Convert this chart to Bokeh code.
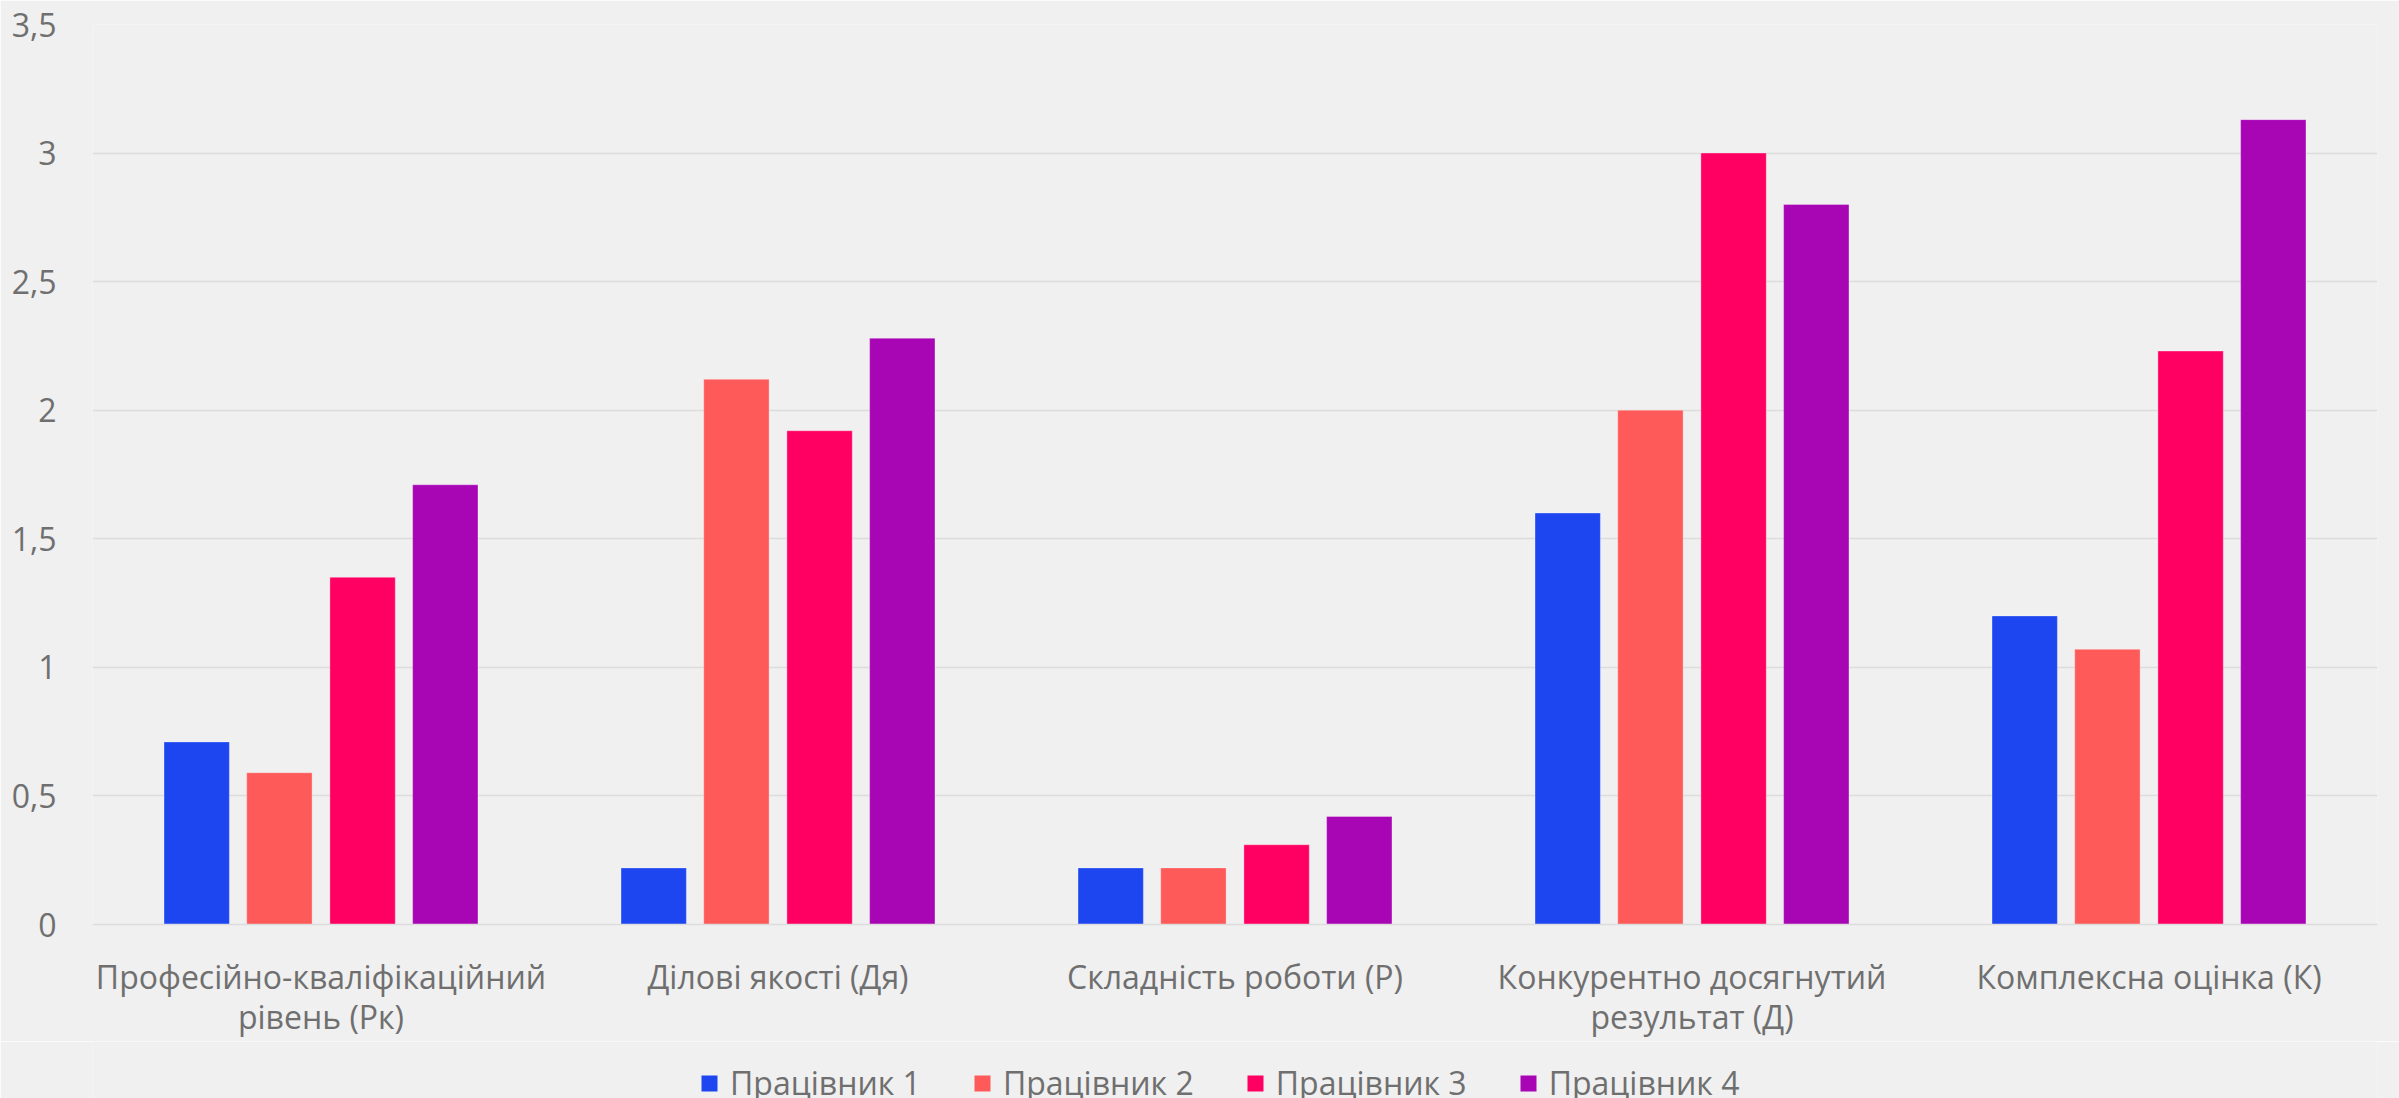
from bokeh.plotting import figure
from bokeh.layouts import column
from bokeh.models import (ColumnDataSource, Legend, LegendItem, FactorRange, Range1d,
                          FixedTicker, CustomJSTickFormatter)
from bokeh.transform import dodge
from bokeh.embed import file_html
from bokeh.resources import INLINE

# ---- data ----
categories = [
    "Професійно-кваліфікаційний\nрівень (Рк)",
    "Ділові якості (Дя)",
    "Складність роботи (Р)",
    "Конкурентно досягнутий\nрезультат (Д)",
    "Комплексна оцінка (К)",
]
series_names = ["Працівник 1", "Працівник 2", "Працівник 3", "Працівник 4"]
worker1 = [0.71, 0.22, 0.22, 1.60, 1.20]
worker2 = [0.59, 2.12, 0.22, 2.00, 1.07]
worker3 = [1.35, 1.92, 0.31, 3.00, 2.23]
worker4 = [1.71, 2.28, 0.42, 2.80, 3.13]
y_ticks = [0, 0.5, 1, 1.5, 2, 2.5, 3, 3.5]
y_tick_labels = ["0", "0,5", "1", "1,5", "2", "2,5", "3", "3,5"]

colors = ["#1E46F0", "#FF5A5A", "#FF0062", "#A805B5"]
offsets = [-0.272, -0.091, 0.091, 0.272]
bar_w = 0.143
FONT = "Open Sans"
FS = "32px"
TXT = "#6F6F6F"
BG = "#F0F0F0"
GRID = "#DCDCDC"
keys = ["w1", "w2", "w3", "w4"]

source = ColumnDataSource(dict(cat=categories, w1=worker1, w2=worker2, w3=worker3, w4=worker4))

x_range = FactorRange(*categories)
p = figure(frame_width=2285, frame_height=900,
           x_range=x_range, y_range=Range1d(0, 3.5),
           output_backend="svg", toolbar_location=None,
           min_border_left=92, min_border_right=22, min_border_top=24, min_border_bottom=116)
p.background_fill_color = BG
p.border_fill_color = BG
p.outline_line_color = None

for key, off, col in zip(keys, offsets, colors):
    p.vbar(x=dodge("cat", off, range=x_range), top=key, width=bar_w, source=source,
           fill_color=col, line_color="white", line_alpha=0.3, line_width=1)

# axes
p.yaxis.ticker = FixedTicker(ticks=y_ticks)
p.yaxis.formatter = CustomJSTickFormatter(args=dict(tv=y_ticks, tl=y_tick_labels), code="""
const i = tv.findIndex(t => Math.abs(t - tick) < 1e-9);
return i >= 0 ? tl[i] : '';
""")
p.yaxis.axis_line_color = None
p.yaxis.major_tick_line_color = None
p.yaxis.minor_tick_line_color = None
p.yaxis.major_label_standoff = 30
p.yaxis.major_label_text_font = FONT
p.yaxis.major_label_text_font_size = FS
p.yaxis.major_label_text_color = TXT

p.xaxis.axis_line_color = GRID
p.xaxis.axis_line_width = 1.5
p.xaxis.major_tick_line_color = None
p.xaxis.minor_tick_line_color = None
p.xaxis.major_label_standoff = 24
p.xaxis.major_label_text_font = FONT
p.xaxis.major_label_text_font_size = FS
p.xaxis.major_label_text_color = TXT
p.xaxis.major_label_text_line_height = 0.95

p.xgrid.grid_line_color = None
p.ygrid.grid_line_color = GRID
p.ygrid.grid_line_width = 1.5

# ---- legend strip: same series drawn into a y-window above the data (not visible), legend only ----
lg = figure(width=2399, height=58, x_range=x_range, y_range=Range1d(10, 11),
            output_backend="svg", toolbar_location=None,
            min_border=0, min_border_left=0, min_border_right=0, min_border_top=0, min_border_bottom=0)
lg.axis.visible = False
lg.grid.visible = False
lg.outline_line_color = None
lg.background_fill_color = BG
lg.border_fill_color = BG
swatches = []
for key, off, col in zip(keys, offsets, colors):
    swatches.append(lg.vbar(x=dodge("cat", off, range=x_range), top=key, width=bar_w,
                            source=source, fill_color=col, line_color=None))

legend = Legend(items=[LegendItem(label=n, renderers=[r]) for n, r in zip(series_names, swatches)],
                orientation="horizontal", location=(607, -5),
                label_text_font=FONT, label_text_font_size=FS, label_text_color=TXT,
                glyph_width=20, glyph_height=20, label_standoff=11, spacing=51,
                background_fill_alpha=0, border_line_color=None, padding=0, margin=0)
lg.add_layout(legend, "center")

layout = column(p, lg, spacing=0)
open("out.html", "w").write(file_html(layout, INLINE))
